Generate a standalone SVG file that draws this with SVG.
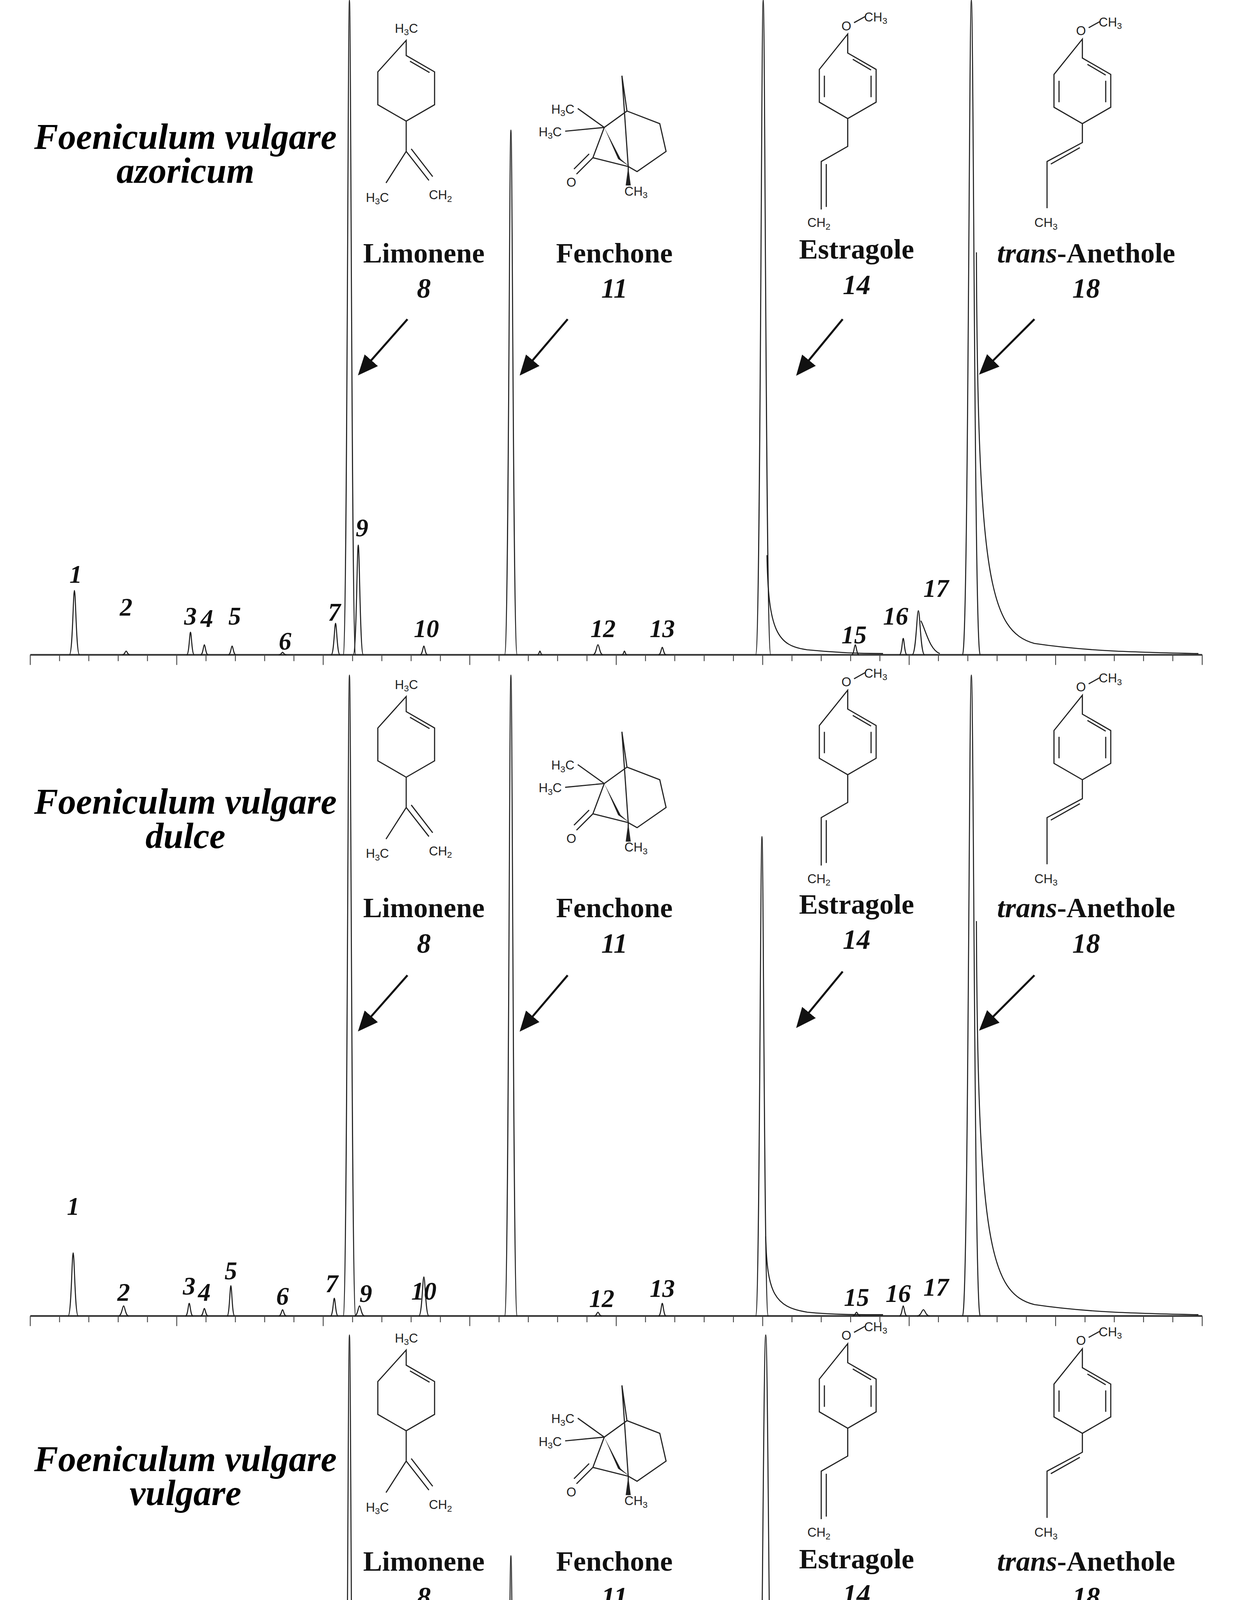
<svg xmlns="http://www.w3.org/2000/svg" xmlns:xlink="http://www.w3.org/1999/xlink" width="3198" height="5134" viewBox="0 0 3198 5134">
<style>
.tr{fill:none;stroke:#1a1a1a;stroke-width:2.6;vector-effect:non-scaling-stroke}
.ax{fill:none;stroke:#333;stroke-width:1.3}
.tk{fill:none;stroke:#444;stroke-width:0.7}
.num{font-family:"Liberation Serif",serif;font-weight:bold;font-style:italic;font-size:20px;text-anchor:middle;fill:#111}
.ttl{font-family:"Liberation Serif",serif;font-weight:bold;font-style:italic;font-size:28.5px;text-anchor:middle;fill:#000}
.cmp{font-family:"Liberation Serif",serif;font-weight:bold;font-size:22.5px;text-anchor:middle;fill:#111}
.cid{font-family:"Liberation Serif",serif;font-weight:bold;font-style:italic;font-size:22px;text-anchor:middle;fill:#111}
.axn{font-family:"Liberation Serif",serif;font-size:14px;text-anchor:middle;fill:#222}
.st{fill:none;stroke:#222;stroke-width:0.9}
.at{font-family:"Liberation Sans",Arial,sans-serif;font-size:10px;fill:#222}
.arr{stroke:#111;stroke-width:1.6;fill:none}
</style>
<defs>
<path id="pk" class="tr" d="M-1,0 C-0.35,0 -0.25,-1 0,-1 C0.25,-1 0.35,0 1,0"/>
<path id="ticks" class="tk" d="M24,0v8M47.2,0v5M70.4,0v5M93.7,0v5M116.9,0v5M140.1,0v8M163.3,0v5M186.6,0v5M209.8,0v5M233,0v5M256.2,0v8M279.5,0v5M302.7,0v5M325.9,0v5M349.1,0v5M372.4,0v8M395.6,0v5M418.8,0v5M442,0v5M465.3,0v5M488.5,0v8M511.7,0v5M534.9,0v5M558.2,0v5M581.4,0v5M604.6,0v8M627.8,0v5M651,0v5M674.3,0v5M697.5,0v5M720.7,0v8M743.9,0v5M767.2,0v5M790.4,0v5M813.6,0v5M836.8,0v8M860.1,0v5M883.3,0v5M906.5,0v5M929.7,0v5M953,0v8"/>
<marker id="ah" markerUnits="userSpaceOnUse" markerWidth="16" markerHeight="14" refX="2" refY="7" orient="auto"><path d="M0,0 L16,7 L0,14 Z" fill="#111"/></marker>
<g id="limonene">
<text class="at" x="313" y="26">H<tspan font-size="7" dy="2">3</tspan><tspan dy="-2">C</tspan></text>
<path class="st" d="M322,32V44L344.5,57V83L322,96L299.5,83V57Z M325,48.5L340.5,57.5 M322,96V120L306,145 M322,120L340,143 M326,118L343,140"/>
<text class="at" x="290" y="160">H<tspan font-size="7" dy="2">3</tspan><tspan dy="-2">C</tspan></text>
<text class="at" x="340" y="158">CH<tspan font-size="7" dy="2">2</tspan></text>
</g>
<g id="fenchone">
<text class="at" x="437" y="90">H<tspan font-size="7" dy="2">3</tspan><tspan dy="-2">C</tspan></text>
<text class="at" x="427" y="108">H<tspan font-size="7" dy="2">3</tspan><tspan dy="-2">C</tspan></text>
<text class="at" x="449" y="148">O</text>
<text class="at" x="495" y="155">CH<tspan font-size="7" dy="2">3</tspan></text>
<path class="st" d="M458,86L479,101 M448,104L479,101 M479,101L470,125 M470,125L457,138 M467,122L455,134 M470,125L498,132 M479,101L497,88 M497,88L493,60 M493,60L498,132 M497,88L523,98L528,120L505,136L498,132 M498,132V147"/>
<path d="M479,101L492,126L499,132L490,126Z M498,132L500,147L496,147Z" fill="#222"/>
</g>
<g id="estragole">
<text class="at" x="667" y="24">O</text>
<text class="at" x="685" y="17">CH<tspan font-size="7" dy="2">3</tspan></text>
<path class="st" d="M677,18L686,13 M672,27V42L694.5,55V81L672,94L649.5,81V55Z M676,47L690.5,55.5 M690.5,60V77 M653.5,60V77 M672,94V116L651,128V166 M655,130V164"/>
<text class="at" x="640" y="180">CH<tspan font-size="7" dy="2">2</tspan></text>
</g>
<g id="anethole">
<text class="at" x="853" y="28">O</text>
<text class="at" x="871" y="21">CH<tspan font-size="7" dy="2">3</tspan></text>
<path class="st" d="M863,22L872,17 M858,31V46L880.5,59V85L858,98L835.5,85V59Z M862,51L876.5,59.5 M876.5,64V81 M839.5,64V81 M858,98V113L830,128L830,165 M856,117L833,130"/>
<text class="at" x="820" y="180">CH<tspan font-size="7" dy="2">3</tspan></text>
</g>
</defs>
<g transform="scale(3.23)">
<g id="panel1">
<line class="ax" x1="24" y1="519" x2="953" y2="519"/>
<use href="#ticks" transform="translate(0,519)"/>
<g id="peaks1">
<use href="#pk" transform="translate(59,519) scale(4,51)"/>
<use href="#pk" transform="translate(100,519) scale(3,3)"/>
<use href="#pk" transform="translate(151,519) scale(3,18)"/>
<use href="#pk" transform="translate(162,519) scale(3,8)"/>
<use href="#pk" transform="translate(184,519) scale(3,7)"/>
<use href="#pk" transform="translate(224,519) scale(3,2)"/>
<use href="#pk" transform="translate(266,519) scale(3.5,25)"/>
<use href="#pk" transform="translate(277,519) scale(5,519)"/>
<use href="#pk" transform="translate(284,519) scale(4,87)"/>
<use href="#pk" transform="translate(336,519) scale(3,7)"/>
<use href="#pk" transform="translate(405,519) scale(5,416)"/>
<use href="#pk" transform="translate(428,519) scale(2,3)"/>
<use href="#pk" transform="translate(474,519) scale(4,8)"/>
<use href="#pk" transform="translate(495,519) scale(2,3)"/>
<use href="#pk" transform="translate(525,519) scale(3,6)"/>
<use href="#pk" transform="translate(605,519) scale(6,519)"/>
<path class="tr" d="M608,440 C609,500 616,512 640,515 C660,517 680,518 700,518"/>
<use href="#pk" transform="translate(678,519) scale(3,8)"/>
<use href="#pk" transform="translate(716,519) scale(3,13)"/>
<use href="#pk" transform="translate(728,519) scale(5,35)"/>
<path class="tr" d="M730,492 C734,500 737,515 745,518"/>
<use href="#pk" transform="translate(770,519) scale(7,519)"/>
<path class="tr" d="M774,200 C775,460 785,500 820,510 C860,516 900,517 950,518"/>
</g>
<g id="labels1">
<text class="num" x="60" y="462">1</text><text class="num" x="100" y="488">2</text><text class="num" x="151" y="495">3</text><text class="num" x="164" y="497">4</text><text class="num" x="186" y="495">5</text><text class="num" x="226" y="515">6</text><text class="num" x="265" y="492">7</text><text class="num" x="287" y="425">9</text><text class="num" x="338" y="505">10</text><text class="num" x="478" y="505">12</text><text class="num" x="525" y="505">13</text><text class="num" x="677" y="510">15</text><text class="num" x="710" y="495">16</text><text class="num" x="742" y="473">17</text>
</g>
<text class="ttl" x="147" y="118">Foeniculum vulgare</text>
<text class="ttl" x="147" y="145">azoricum</text>
<use href="#limonene"/><use href="#fenchone"/><use href="#estragole"/><use href="#anethole"/>
<text class="cmp" x="336" y="208">Limonene</text><text class="cid" x="336" y="236">8</text>
<text class="cmp" x="487" y="208">Fenchone</text><text class="cid" x="487" y="236">11</text>
<text class="cmp" x="679" y="205">Estragole</text><text class="cid" x="679" y="233">14</text>
<text class="cmp" x="861" y="208"><tspan font-style="italic">trans</tspan>-Anethole</text><text class="cid" x="861" y="236">18</text>
</g>
<g id="panel2">
<line class="ax" x1="24" y1="1043" x2="953" y2="1043"/>
<use href="#ticks" transform="translate(0,1043)"/>
<g id="peaks2">
<use href="#pk" transform="translate(58,1043) scale(4,50)"/>
<use href="#pk" transform="translate(98,1043) scale(4,8)"/>
<use href="#pk" transform="translate(150,1043) scale(3,10)"/>
<use href="#pk" transform="translate(162,1043) scale(3,6)"/>
<use href="#pk" transform="translate(183,1043) scale(3,24)"/>
<use href="#pk" transform="translate(224,1043) scale(3,5)"/>
<use href="#pk" transform="translate(265,1043) scale(3,14)"/>
<use href="#pk" transform="translate(277,1043) scale(5,508)"/>
<use href="#pk" transform="translate(285,1043) scale(4,8)"/>
<use href="#pk" transform="translate(336,1043) scale(4,31)"/>
<use href="#pk" transform="translate(405,1043) scale(5,508)"/>
<use href="#pk" transform="translate(474,1043) scale(3,3)"/>
<use href="#pk" transform="translate(525,1043) scale(3,10)"/>
<use href="#pk" transform="translate(604,1043) scale(5,380)"/>
<path class="tr" d="M607,980 C608,1025 614,1036 640,1040 C660,1042 680,1042 700,1042"/>
<use href="#pk" transform="translate(679,1043) scale(3,3)"/>
<use href="#pk" transform="translate(716,1043) scale(3,8)"/>
<use href="#pk" transform="translate(732,1043) scale(5,5)"/>
<use href="#pk" transform="translate(770,1043) scale(7,508)"/>
<path class="tr" d="M774,730 C775,985 785,1025 820,1034 C860,1040 900,1041 950,1042"/>
</g>
<g id="labels2">
<text class="num" x="58" y="963">1</text><text class="num" x="98" y="1031">2</text><text class="num" x="150" y="1026">3</text><text class="num" x="162" y="1031">4</text><text class="num" x="183" y="1014">5</text><text class="num" x="224" y="1034">6</text><text class="num" x="263" y="1024">7</text><text class="num" x="290" y="1032">9</text><text class="num" x="336" y="1030">10</text><text class="num" x="477" y="1036">12</text><text class="num" x="525" y="1028">13</text><text class="num" x="679" y="1035">15</text><text class="num" x="712" y="1032">16</text><text class="num" x="742" y="1027">17</text>
</g>
<text class="ttl" x="147" y="645">Foeniculum vulgare</text>
<text class="ttl" x="147" y="672">dulce</text>
<g transform="translate(0,520)"><use href="#limonene"/><use href="#fenchone"/><use href="#estragole"/><use href="#anethole"/></g>
<text class="cmp" x="336" y="727">Limonene</text><text class="cid" x="336" y="755">8</text>
<text class="cmp" x="487" y="727">Fenchone</text><text class="cid" x="487" y="755">11</text>
<text class="cmp" x="679" y="724">Estragole</text><text class="cid" x="679" y="752">14</text>
<text class="cmp" x="861" y="727"><tspan font-style="italic">trans</tspan>-Anethole</text><text class="cid" x="861" y="755">18</text>
</g>
<g id="panel3">
<line class="ax" x1="24" y1="1561" x2="953" y2="1561"/>
<use href="#ticks" transform="translate(0,1561)"/>
<g id="peaks3">
<use href="#pk" transform="translate(60,1561) scale(4,31)"/>
<use href="#pk" transform="translate(101,1561) scale(3,3)"/>
<use href="#pk" transform="translate(152,1561) scale(3,14)"/>
<use href="#pk" transform="translate(163,1561) scale(3,8)"/>
<use href="#pk" transform="translate(185,1561) scale(3,9)"/>
<use href="#pk" transform="translate(225,1561) scale(3,2)"/>
<use href="#pk" transform="translate(266,1561) scale(3.5,21)"/>
<use href="#pk" transform="translate(277,1561) scale(5,503)"/>
<use href="#pk" transform="translate(285,1561) scale(4,53)"/>
<use href="#pk" transform="translate(336,1561) scale(3,6)"/>
<use href="#pk" transform="translate(405,1561) scale(5,328)"/>
<use href="#pk" transform="translate(474,1561) scale(4,8)"/>
<use href="#pk" transform="translate(498,1561) scale(3,9)"/>
<use href="#pk" transform="translate(524,1561) scale(3,5)"/>
<use href="#pk" transform="translate(607,1561) scale(9,503)"/>
<path class="tr" d="M612,1400 C613,1530 622,1552 650,1557 C670,1559 690,1560 710,1560"/>
<use href="#pk" transform="translate(678,1561) scale(3,10)"/>
<use href="#pk" transform="translate(706,1561) scale(3,4)"/>
<use href="#pk" transform="translate(738,1561) scale(3,2)"/>
<use href="#pk" transform="translate(770,1561) scale(5,156)"/>
<path class="tr" d="M773,1520 C775,1550 785,1558 810,1560"/>
</g>
<g id="labels3">
<text class="num" x="60" y="1492">1</text><text class="num" x="101" y="1555">2</text><text class="num" x="152" y="1539">3</text><text class="num" x="164" y="1546">4</text><text class="num" x="187" y="1543">5</text><text class="num" x="226" y="1553">6</text><text class="num" x="265" y="1531">7</text><text class="num" x="289" y="1468">9</text><text class="num" x="338" y="1551">10</text><text class="num" x="478" y="1547">12</text><text class="num" x="520" y="1551">13</text><text class="num" x="677" y="1527">15</text><text class="num" x="705" y="1553">16</text><text class="num" x="740" y="1553">17</text>
</g>
<text class="ttl" x="147" y="1166">Foeniculum vulgare</text>
<text class="ttl" x="147" y="1193">vulgare</text>
<g transform="translate(0,1038)"><use href="#limonene"/><use href="#fenchone"/><use href="#estragole"/><use href="#anethole"/></g>
<text class="cmp" x="336" y="1245">Limonene</text><text class="cid" x="336" y="1273">8</text>
<text class="cmp" x="487" y="1245">Fenchone</text><text class="cid" x="487" y="1273">11</text>
<text class="cmp" x="679" y="1243">Estragole</text><text class="cid" x="679" y="1271">14</text>
<text class="cmp" x="861" y="1245"><tspan font-style="italic">trans</tspan>-Anethole</text><text class="cid" x="861" y="1273">18</text>
<g class="axn">
<text x="24" y="1584">14</text><text x="140.1" y="1584">16</text><text x="256.2" y="1584">18</text><text x="372.4" y="1584">20</text><text x="488.5" y="1584">22</text><text x="604.6" y="1584">24</text><text x="720.7" y="1584">26</text><text x="836.8" y="1584">28</text><text x="953" y="1584">30</text>
</g>
</g>
<g id="connectors">
<line class="arr" x1="323" y1="253" x2="293" y2="287" marker-end="url(#ah)"/>
<line class="arr" x1="450" y1="253" x2="421" y2="287" marker-end="url(#ah)"/>
<line class="arr" x1="668" y1="253" x2="640" y2="287" marker-end="url(#ah)"/>
<line class="arr" x1="820" y1="253" x2="786" y2="287" marker-end="url(#ah)"/>
<line class="arr" x1="323" y1="773" x2="293" y2="807" marker-end="url(#ah)"/>
<line class="arr" x1="450" y1="773" x2="421" y2="807" marker-end="url(#ah)"/>
<line class="arr" x1="668" y1="770" x2="640" y2="804" marker-end="url(#ah)"/>
<line class="arr" x1="820" y1="773" x2="786" y2="807" marker-end="url(#ah)"/>
<line class="arr" x1="323" y1="1291" x2="293" y2="1325" marker-end="url(#ah)"/>
<line class="arr" x1="450" y1="1291" x2="421" y2="1325" marker-end="url(#ah)"/>
<line class="arr" x1="668" y1="1289" x2="640" y2="1323" marker-end="url(#ah)"/>
<line class="arr" x1="820" y1="1291" x2="786" y2="1325" marker-end="url(#ah)"/>
</g>
</g>
</svg>
